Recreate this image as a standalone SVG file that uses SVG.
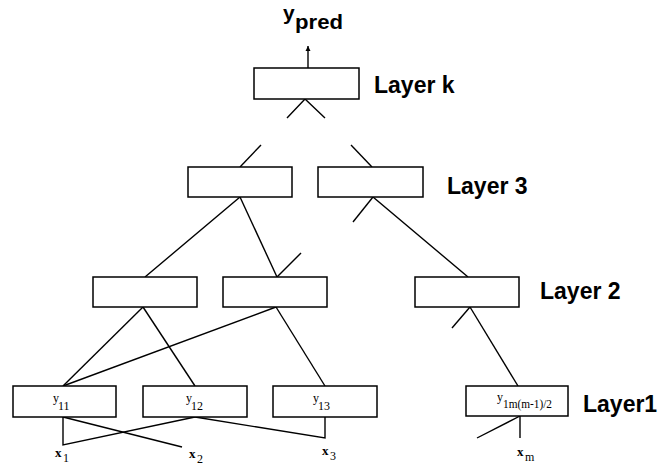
<svg xmlns="http://www.w3.org/2000/svg" width="660" height="465" viewBox="0 0 660 465">
<style>
.box{fill:#fff;stroke:#000;stroke-width:1.5}
.ln{fill:none;stroke:#000;stroke-width:1.4}
.lab{font-family:"Liberation Sans",Arial,sans-serif;font-weight:bold;font-size:23px;fill:#000}
.sy{font-family:"Liberation Serif","Times New Roman",serif;font-size:12px;fill:#000}
.sx{font-family:"Liberation Serif","Times New Roman",serif;font-size:13px;font-weight:bold;fill:#000}
</style>
<defs>
<marker id="ah" markerWidth="6" markerHeight="6" refX="5" refY="3" orient="auto" markerUnits="userSpaceOnUse">
<path d="M0,0.5 L5,3 L0,5.5 Z" fill="#000"/>
</marker>
</defs>
<rect width="660" height="465" fill="#fff"/>
<g id="connectors" class="ln">
<line x1="308" y1="68" x2="308" y2="46" marker-end="url(#ah)"/>
<polyline points="287,118 305,99 325,118"/>
<line x1="240" y1="167" x2="261" y2="145"/>
<line x1="372" y1="167" x2="351" y2="145"/>
<line x1="240" y1="197" x2="145" y2="277"/>
<line x1="240" y1="197" x2="277" y2="277"/>
<line x1="373" y1="197" x2="353" y2="222"/>
<line x1="373" y1="197" x2="468" y2="277"/>
<line x1="277" y1="277" x2="301" y2="253"/>
<line x1="143" y1="307" x2="63" y2="386"/>
<line x1="143" y1="307" x2="195" y2="386"/>
<line x1="276" y1="307" x2="63" y2="386"/>
<line x1="276" y1="307" x2="325" y2="386"/>
<line x1="470" y1="307" x2="452" y2="328"/>
<line x1="470" y1="307" x2="518" y2="386"/>
<polyline points="63,417 63,445 195,417"/>
<line x1="63" y1="417" x2="182" y2="447"/>
<polyline points="195,417 325,438 325,417"/>
<line x1="520" y1="416" x2="520" y2="438"/>
<line x1="520" y1="416" x2="477" y2="438"/>
</g>
<g id="ypred">
<text x="283" y="20" font-family="Liberation Sans,Arial,sans-serif" font-weight="bold" font-size="21">y</text>
<text x="295" y="29" font-family="Liberation Sans,Arial,sans-serif" font-weight="bold" font-size="21" textLength="48" lengthAdjust="spacingAndGlyphs">pred</text>
</g>
<g id="layerk"><rect class="box" x="254" y="68" width="105" height="31"/></g>
<g id="l3a"><rect class="box" x="188" y="167" width="104" height="30"/></g>
<g id="l3b"><rect class="box" x="318" y="167" width="105" height="30"/></g>
<g id="l2a"><rect class="box" x="93" y="277" width="104" height="30"/></g>
<g id="l2b"><rect class="box" x="223" y="277" width="104" height="30"/></g>
<g id="l2c"><rect class="box" x="415" y="277" width="104" height="30"/></g>
<g id="y11"><rect class="box" x="13" y="386" width="103" height="31"/><text class="sy" x="53" y="402" font-size="12">y</text><text class="sy" x="58" y="410" font-size="14">11</text></g>
<g id="y12"><rect class="box" x="143" y="386" width="104" height="31"/><text class="sy" x="186" y="402" font-size="12">y</text><text class="sy" x="191" y="410" font-size="14">12</text></g>
<g id="y13"><rect class="box" x="273" y="386" width="104" height="31"/><text class="sy" x="313" y="402" font-size="12">y</text><text class="sy" x="318" y="410" font-size="14">13</text></g>
<g id="y1m"><rect class="box" x="466" y="386" width="102" height="30"/><text class="sy" x="497" y="401" font-size="12">y</text><text class="sy" x="503" y="408" font-size="12" textLength="49" lengthAdjust="spacingAndGlyphs">1m(m-1)/2</text></g>
<g id="labels">
<text class="lab" x="374" y="93">Layer k</text>
<text class="lab" x="447" y="194">Layer 3</text>
<text class="lab" x="540" y="299">Layer 2</text>
<text class="lab" x="583" y="412">Layer1</text>
</g>
<g id="inputs">
<text class="sx" x="55" y="457" font-size="12">x</text><text class="sy" x="63" y="462" font-size="13">1</text>
<text class="sx" x="189" y="458" font-size="12">x</text><text class="sy" x="197" y="463" font-size="13">2</text>
<text class="sx" x="322" y="455" font-size="12">x</text><text class="sy" x="330" y="460" font-size="13">3</text>
<text class="sx" x="517" y="456" font-size="12">x</text><text class="sy" x="525" y="461" font-size="12">m</text>
</g>
</svg>
